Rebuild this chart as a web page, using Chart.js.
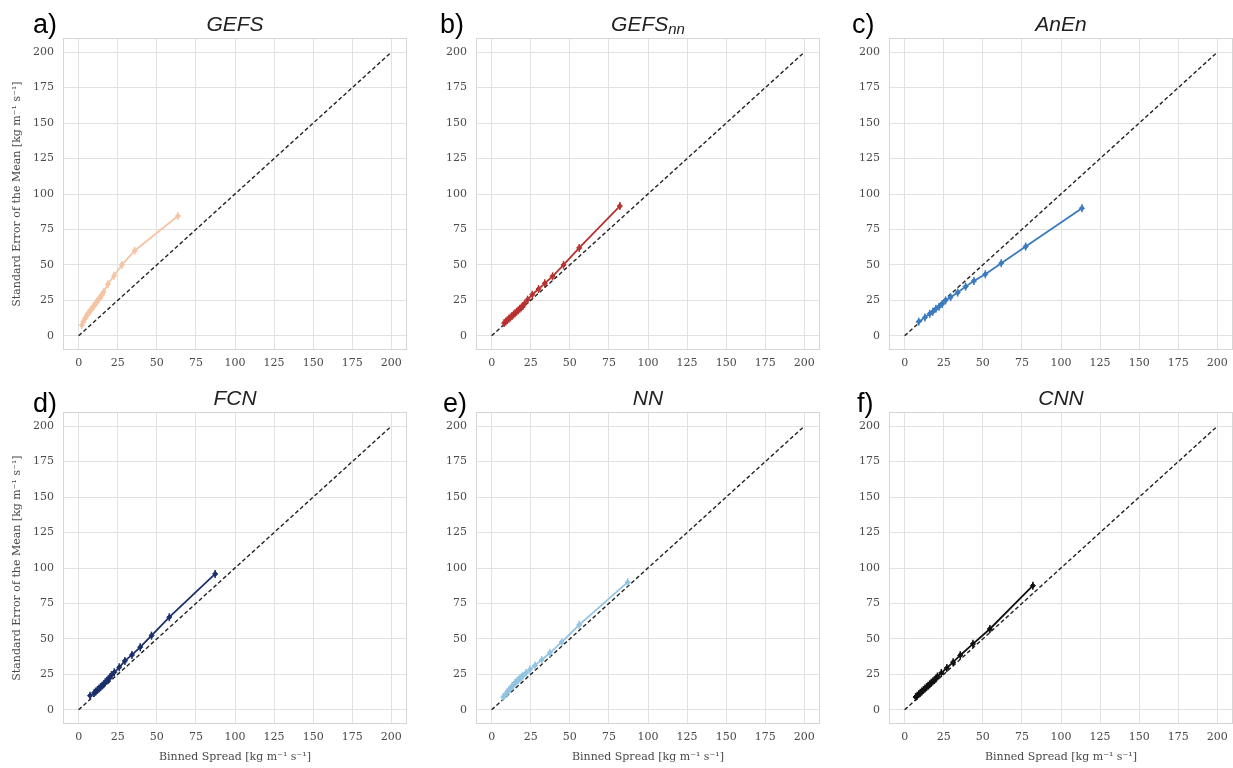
<!DOCTYPE html>
<html>
<head>
<meta charset="utf-8">
<script src="https://cdn.jsdelivr.net/npm/chart.js@4.4.1/dist/chart.umd.min.js"></script>
<style>
  body { margin: 0; background: #fff; width: 1233px; height: 768px; overflow: hidden; position: relative; font-family: "Liberation Sans", sans-serif; }
  canvas { position: absolute; }
  .lab { position: absolute; font-size: 27px; color: #000; line-height: 1; }
  .ttl { position: absolute; font-style: italic; font-size: 21px; color: #222; line-height: 1; white-space: nowrap; transform: translateX(-50%); }
  .ttl sub { font-size: 15px; vertical-align: -3px; }
</style>
</head>
<body>
<script>
// axis ticks shared by all six panels
const tickValues = [0, 25, 50, 75, 100, 125, 150, 175, 200];
const identityLine = [0, 200];

// binned spread (x) and standard error of the mean (y)
const gefsSpread   = [2, 3, 4, 5, 6, 7, 8, 9, 10, 11, 12, 13, 14, 15, 16, 18.7, 22.6, 27.7, 35.8, 63.5];
const gefsError    = [7.5, 10, 12, 14, 15.5, 17, 18.5, 20, 21.5, 23, 24.5, 26, 27.5, 29, 31, 36.4, 42.3, 50, 60, 84.5];

const gefsNnSpread = [8, 9, 10, 11, 12, 13, 14, 15, 16, 17, 18, 19, 20, 21, 23, 26, 30, 34, 39, 46, 56, 82];
const gefsNnError  = [9, 10, 11, 12, 13, 14, 15, 16, 17, 18, 19, 20, 21, 22.5, 25.5, 29, 33, 37, 42, 50, 62, 91.5];

const anenSpread   = [9, 13, 16, 18, 20, 22, 24, 26.2, 29.4, 33.9, 39, 44.3, 51.6, 61.8, 77.4, 113.4];
const anenError    = [10, 13, 15.5, 17, 19, 20.5, 22.5, 25, 27.2, 30.5, 34.7, 38.7, 43.4, 51.2, 62.9, 90];

const fcnSpread    = [7.3, 10, 11, 12, 13, 14, 15, 16, 17, 18, 19, 20, 21, 22.8, 26, 29.6, 34.1, 39.4, 46.6, 58, 87.3];
const fcnError     = [10, 12, 13, 14, 15, 16, 17, 18, 19.5, 20.5, 21.5, 23, 24.5, 26.5, 30, 34.5, 38.7, 44.2, 52.3, 65.3, 95.8];

const nnSpread     = [7.4, 9, 10, 11, 12, 13, 14, 15, 16, 17, 18, 19, 20, 22, 24.5, 27.7, 32, 37.3, 44.8, 56, 87];
const nnError      = [9, 11, 12.5, 14, 15, 16.5, 17.5, 19, 20, 21, 22, 23, 24, 26, 28.4, 31.3, 35.2, 40.2, 47.7, 59.9, 90];

const cnnSpread    = [7, 8, 9, 10, 11, 12, 13, 14, 15, 16, 17, 18, 19, 20, 21, 23.5, 27, 31, 35.6, 43.7, 54.5, 82];
const cnnError     = [9, 10, 11, 12, 13, 14, 15, 16, 17, 18, 19, 20, 21, 22, 23.5, 26, 29.5, 33.6, 38.5, 46.5, 57, 87.5];

const yTitleText = 'Standard Error of the Mean [kg m\u207B\u00B9 s\u207B\u00B9]';
const xTitleText = 'Binned Spread [kg m\u207B\u00B9 s\u207B\u00B9]';

// panel layout: plot area left/top in page pixels
const panels = [
  { label: 'a)', title: 'GEFS', x: gefsSpread, y: gefsError, color: '#f5c4a4', left: 63, top: 38, yTitle: true, xTitle: false, labX: 33, labY: 11 },
  { label: 'b)', title: 'GEFS<sub>nn</sub>', x: gefsNnSpread, y: gefsNnError, color: '#b8322f', left: 476, top: 38, yTitle: false, xTitle: false, labX: 440, labY: 11 },
  { label: 'c)', title: 'AnEn', x: anenSpread, y: anenError, color: '#3a7abf', left: 889, top: 38, yTitle: false, xTitle: false, labX: 852, labY: 11 },
  { label: 'd)', title: 'FCN', x: fcnSpread, y: fcnError, color: '#1b2f6a', left: 63, top: 412, yTitle: true, xTitle: true, labX: 33, labY: 390 },
  { label: 'e)', title: 'NN', x: nnSpread, y: nnError, color: '#93c4e4', left: 476, top: 412, yTitle: false, xTitle: true, labX: 443, labY: 390 },
  { label: 'f)', title: 'CNN', x: cnnSpread, y: cnnError, color: '#111111', left: 889, top: 412, yTitle: false, xTitle: true, labX: 857, labY: 390 }
];

// the y tick labels reserve about 15.6px above the plot, so leave 16
const plotW = 344, plotH = 312, topGap = 16;

const frame = {
  id: 'frame',
  beforeDatasetsDraw(chart) {
    const a = chart.chartArea, c = chart.ctx;
    c.save();
    c.strokeStyle = '#d6d6d6';
    c.lineWidth = 1;
    c.strokeRect(a.left + 0.5, a.top + 0.5, a.right - a.left - 1, a.bottom - a.top - 1);
    c.restore();
  }
};

const tickFont = { family: 'DejaVu Serif', size: 11 };

panels.forEach(p => {
  const yW = p.yTitle ? 63 : 50;
  const xH = p.xTitle ? 43 : 30;
  const cv = document.createElement('canvas');
  cv.width = yW + plotW + 2;
  cv.height = topGap + plotH + xH;
  cv.style.left = (p.left - yW) + 'px';
  cv.style.top = (p.top - topGap) + 'px';
  document.body.appendChild(cv);

  const lab = document.createElement('div');
  lab.className = 'lab';
  lab.textContent = p.label;
  lab.style.left = p.labX + 'px';
  lab.style.top = p.labY + 'px';
  document.body.appendChild(lab);

  const ttl = document.createElement('div');
  ttl.className = 'ttl';
  ttl.innerHTML = p.title;
  ttl.style.left = (p.left + plotW / 2) + 'px';
  ttl.style.top = (p.top - 25) + 'px';
  document.body.appendChild(ttl);

  const pts = p.x.map((v, i) => ({ x: v, y: p.y[i] }));
  const diag = identityLine.map(v => ({ x: v, y: v }));

  new Chart(cv.getContext('2d'), {
    type: 'scatter',
    data: {
      datasets: [
        { data: pts, showLine: true, borderColor: p.color, backgroundColor: p.color,
          borderWidth: 1.8, pointStyle: 'rectRot', pointRadius: 2.6, pointBorderWidth: 1 },
        { data: pts, showLine: false, pointStyle: 'line', rotation: 90, pointRadius: 4,
          borderColor: p.color, pointBorderWidth: 1.5 },
        { data: diag, showLine: true, borderColor: '#222', borderWidth: 1.4,
          borderDash: [4, 2.5], pointRadius: 0 }
      ]
    },
    options: {
      responsive: false,
      animation: false,
      layout: { autoPadding: false, padding: { top: topGap, right: 2, left: 0, bottom: 0 } },
      plugins: { legend: { display: false }, tooltip: { enabled: false } },
      scales: {
        x: {
          type: 'linear', min: -10, max: 210,
          afterBuildTicks: s => { s.ticks = tickValues.map(v => ({ value: v })); },
          afterFit: s => { s.height = xH; },
          ticks: { font: tickFont, color: '#4a4a4a', padding: 7, maxRotation: 0, autoSkip: false },
          grid: { color: '#e2e2e2', drawTicks: false },
          border: { display: false },
          title: { display: p.xTitle, text: xTitleText, font: tickFont, color: '#4a4a4a', padding: { bottom: 3, top: 0 } }
        },
        y: {
          type: 'linear', min: -10, max: 210,
          afterBuildTicks: s => { s.ticks = tickValues.map(v => ({ value: v })); },
          afterFit: s => { s.width = yW; },
          ticks: { font: tickFont, color: '#4a4a4a', padding: 9, autoSkip: false },
          grid: { color: '#e2e2e2', drawTicks: false },
          border: { display: false },
          title: { display: p.yTitle, text: yTitleText, font: tickFont, color: '#4a4a4a', padding: { top: 11, bottom: 0 } }
        }
      }
    },
    plugins: [frame]
  });
});
</script>
</body>
</html>
